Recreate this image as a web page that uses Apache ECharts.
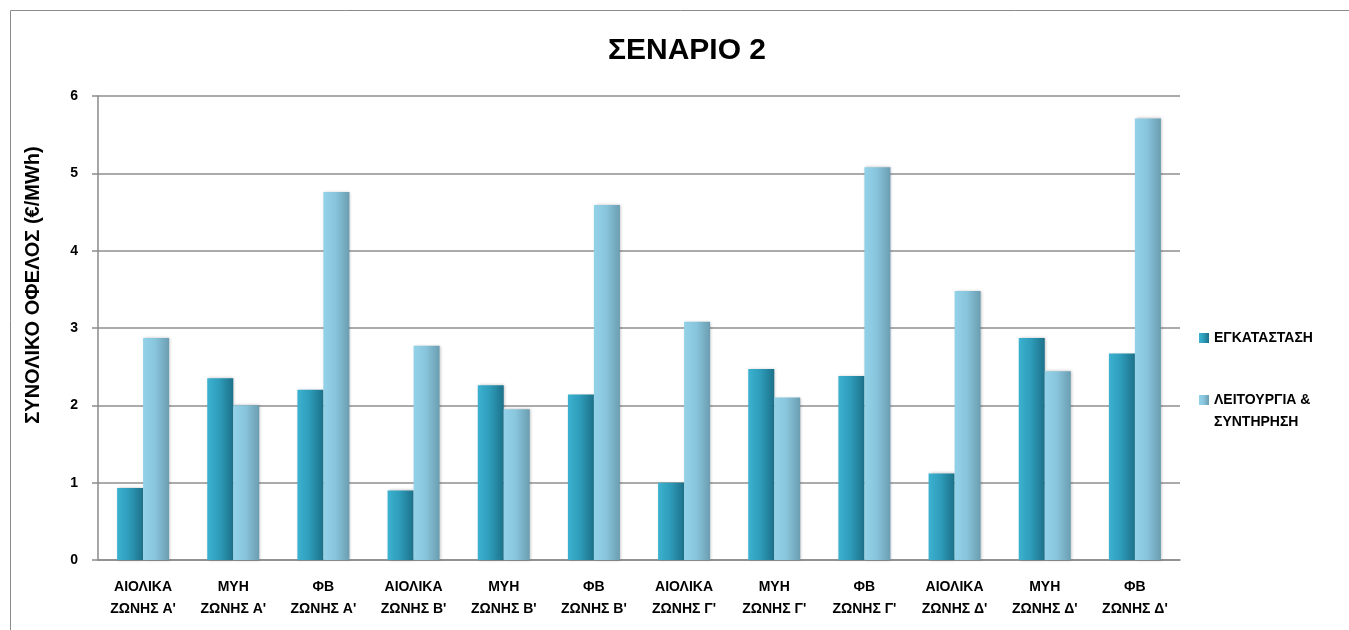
<!DOCTYPE html>
<html>
<head>
<meta charset="utf-8">
<script src="https://cdn.jsdelivr.net/npm/echarts@6/dist/echarts.min.js"></script>
<style>
  html, body { margin: 0; padding: 0; background: #fff; }
  #chart { width: 1349px; height: 630px; }
</style>
</head>
<body>
<div id="chart"></div>
<script>
  // categories and values
  const categories = [
    'ΑΙΟΛΙΚΑ\nΖΩΝΗΣ Α\'', 'ΜΥΗ\nΖΩΝΗΣ Α\'', 'ΦΒ\nΖΩΝΗΣ Α\'',
    'ΑΙΟΛΙΚΑ\nΖΩΝΗΣ Β\'', 'ΜΥΗ\nΖΩΝΗΣ Β\'', 'ΦΒ\nΖΩΝΗΣ Β\'',
    'ΑΙΟΛΙΚΑ\nΖΩΝΗΣ Γ\'', 'ΜΥΗ\nΖΩΝΗΣ Γ\'', 'ΦΒ\nΖΩΝΗΣ Γ\'',
    'ΑΙΟΛΙΚΑ\nΖΩΝΗΣ Δ\'', 'ΜΥΗ\nΖΩΝΗΣ Δ\'', 'ΦΒ\nΖΩΝΗΣ Δ\''
  ]
  const egkatastasi = [0.93, 2.35, 2.2, 0.9, 2.26, 2.14, 1.0, 2.47, 2.38, 1.12, 2.87, 2.67]
  const leitourgia = [2.87, 2.0, 4.76, 2.77, 1.95, 4.59, 3.08, 2.1, 5.08, 3.48, 2.44, 5.71]
  const seriesNames = ['ΕΓΚΑΤΑΣΤΑΣΗ', 'ΛΕΙΤΟΥΡΓΙΑ & ΣΥΝΤΗΡΗΣΗ']

  const font = '"Liberation Sans", Arial, sans-serif'

  function barColor (l, m, r) {
    return new echarts.graphic.LinearGradient(0, 0, 1, 0, [
      { offset: 0, color: l },
      { offset: 0.45, color: m },
      { offset: 1, color: r }
    ])
  }

  let myecharts = echarts.init(document.getElementById('chart'))
  myecharts.setOption({
    animation: false,
    backgroundColor: '#fff',
    textStyle: { fontFamily: font },
    graphic: [{
      type: 'rect',
      shape: { x: 10.5, y: 10.5, width: 1400, height: 700 },
      style: { fill: 'none', stroke: '#8a8a8a', lineWidth: 1 },
      silent: true
    }],
    title: {
      text: 'ΣΕΝΑΡΙΟ 2',
      left: 603,
      top: 31,
      textStyle: { fontSize: 30, fontWeight: 'bold', color: '#000' }
    },
    legend: [{
      data: [seriesNames[0]],
      orient: 'vertical',
      left: 1194,
      top: 322,
      itemWidth: 10,
      itemHeight: 10,
      itemGap: 5,
      icon: 'rect',
      textStyle: { fontSize: 14, fontWeight: 'bold', color: '#000', lineHeight: 22 }
    }, {
      data: [seriesNames[1]],
      orient: 'vertical',
      left: 1194,
      top: 384,
      itemWidth: 10,
      itemHeight: 32,
      itemGap: 5,
      // square at the top of a taller box so it lines up with the first text line
      icon: 'path://M0,0h10v10h-10z M0,32h0.01v0.01h-0.01z',
      formatter: function (name) { return name.replace(' & ', ' &\n') },
      textStyle: { fontSize: 14, fontWeight: 'bold', color: '#000', lineHeight: 22 }
    }],
    grid: { left: 98, right: 169, top: 96, bottom: 70 },
    xAxis: {
      type: 'category',
      data: categories,
      axisLine: { lineStyle: { color: '#8a8a8a', width: 1.5 } },
      axisTick: { show: false },
      axisLabel: {
        interval: 0,
        margin: 16,
        fontSize: 14,
        fontWeight: 'bold',
        color: '#000',
        lineHeight: 22
      }
    },
    yAxis: {
      type: 'value',
      min: 0,
      max: 6,
      interval: 1,
      name: 'ΣΥΝΟΛΙΚΟ ΟΦΕΛΟΣ (€/MWh)',
      nameLocation: 'middle',
      nameRotate: 90,
      nameGap: 55,
      nameTextStyle: { fontSize: 20, fontWeight: 'bold', color: '#000', padding: [0, 0, 0, 86] },
      axisLine: { show: true, lineStyle: { color: '#8a8a8a', width: 1.5 } },
      axisTick: { show: true, length: 6, lineStyle: { color: '#8a8a8a', width: 1.5 } },
      axisLabel: { fontSize: 14, fontWeight: 'bold', color: '#000', margin: 20 },
      splitLine: { lineStyle: { color: '#8f8f8f', width: 1.5 } }
    },
    series: [
      {
        name: seriesNames[0],
        type: 'bar',
        barWidth: 26,
        barGap: '0%',
        data: egkatastasi,
        itemStyle: {
          color: barColor('#3cb2d0', '#2e9dbb', '#1d7189'),
          shadowColor: 'rgba(0,0,0,0.25)',
          shadowBlur: 3,
          shadowOffsetX: 1
        }
      },
      {
        name: seriesNames[1],
        type: 'bar',
        barWidth: 26,
        data: leitourgia,
        itemStyle: {
          color: barColor('#92d2e8', '#89c6dd', '#6b9db1'),
          shadowColor: 'rgba(0,0,0,0.25)',
          shadowBlur: 3,
          shadowOffsetX: 1
        }
      }
    ]
  })
</script>
</body>
</html>
